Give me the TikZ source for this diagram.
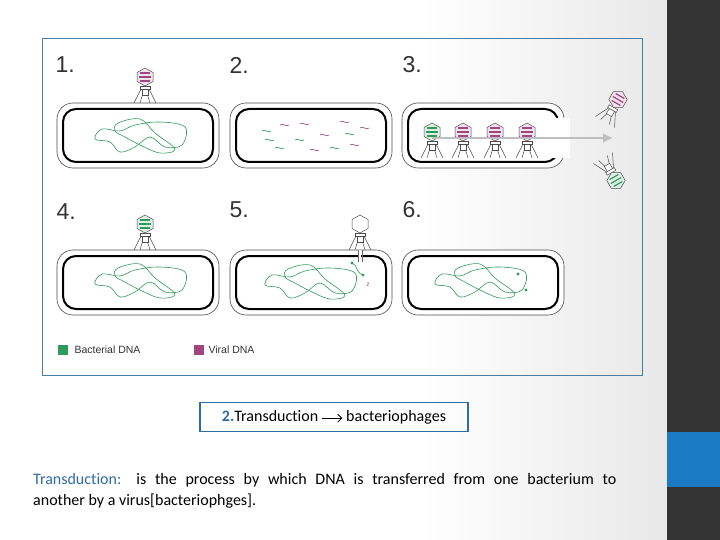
\documentclass[tikz,border=0pt]{standalone}
\usepackage{fontspec}
\usetikzlibrary{arrows.meta}
\setmainfont{Carlito}[Ligatures=NoCommon]
\newfontfamily\arial{Liberation Sans}
\begin{document}
\begin{tikzpicture}[x=1pt,y=-1pt,
  dnastyle/.style={draw=dnagreen,line width=0.6pt},
  outercell/.style={draw=black!70,line width=0.6pt,rounded corners=16pt},
  innercell/.style={draw=black,line width=2pt,rounded corners=13pt},
  steplabel/.style={font=\arial\fontsize{23}{23}\selectfont,text=black!80,anchor=west},
  legendtxt/.style={font=\arial\fontsize{10.5}{10.5}\selectfont,text=black!80,anchor=west}]
\definecolor{dnagreen}{HTML}{2E9A5C}
\definecolor{viral}{HTML}{A0457F}
\definecolor{framecol}{HTML}{4A7EAA}
\definecolor{slideblue}{HTML}{2E6CA4}
\definecolor{barblue}{HTML}{1A7BC4}
\useasboundingbox (0,0) rectangle (720,540);
\fill[white] (0,0) rectangle (720,540);
\shade[left color=white,right color=black!9] (420,0) rectangle (667,540);
\fill[black!80] (667,0) rectangle (720,540);
\fill[barblue] (667,432) rectangle (720,487);
% frame
\draw[framecol,line width=0.8pt] (42,38) rectangle (642,375);
% labels
\node[steplabel] (l1) at (52,65) {1.};
\node[steplabel] (l2) at (226,65) {2.};
\node[steplabel] (l3) at (399,65) {3.};
\node[steplabel] (l4) at (53,212) {4.};
\node[steplabel] (l5) at (226,210) {5.};
\node[steplabel] (l6) at (399,210) {6.};
% cells
\newcommand\cell[2]{%
  \draw[outercell,fill=white] (#1,#2) rectangle ++(162,65);
  \draw[innercell] (#1+6,#2+6) rectangle ++(150,53);}
\cell{57}{103}\cell{230}{103}\cell{402}{103}
\cell{57}{250}\cell{230}{250}\cell{402}{250}
% DNA loop
\newcommand\dnaloop[2]{%
  \begin{scope}[shift={(#1,#2)}]
  \draw[dnastyle] plot[smooth cycle,tension=0.6] coordinates
   {(-45,2)(-38,-8)(-20,-6)(-5,-12)(20,-15)(45,-10)(42,8)(25,10)(10,0)(-5,10)(-20,15)(-30,5)};
  \draw[dnastyle] plot[smooth cycle,tension=0.6] coordinates
   {(-22,-14)(0,-18)(15,-4)(35,12)(20,16)(0,8)(-15,0)(-25,-6)};
  \end{scope}}
\dnaloop{140}{137}\dnaloop{310}{283}\dnaloop{480}{282}\dnaloop{140}{282}
% fragments in cell 2
\foreach \x/\y/\c in {262/131/dnagreen,280/125/viral,300/124/viral,295/140/dnagreen,320/135/viral,340/122/viral,
  345/134/dnagreen,360/128/viral,330/148/dnagreen,310/150/viral,275/148/dnagreen,350/145/viral,265/140/dnagreen}
  \draw[\c,line width=0.6pt] (\x,\y) .. controls (\x+3,\y-3) and (\x+6,\y+3) .. (\x+9,\y);
% phage: x,y (leg feet), rotation, head fill, stripe colour
\newcommand\phage[5]{%
  \begin{scope}[shift={(#1,#2)},rotate=#3]
  \draw[black!70,line width=0.5pt] (-4,-14) -- (-11,0) (4,-14) -- (11,0) (-2,-10) -- (-5,0) (2,-10) -- (5,0);
  \draw[black!70,fill=white,line width=0.5pt] (-3,-14) rectangle (3,-8);
  \draw[black!70,fill=white,line width=0.5pt] (-5,-17) rectangle (5,-14);
  \draw[black!70,fill=#4,line width=0.5pt] (0,-35)--(8,-30.5)--(8,-21.5)--(0,-17)--(-8,-21.5)--(-8,-30.5)--cycle;
  \draw[#5,line width=1.2pt] (-5,-30)--(5,-30) (-6,-26)--(6,-26) (-5,-22)--(5,-22);
  \end{scope}}
\phage{145}{103}{0}{viral!15}{viral}
\foreach \x in {463,495,527} \phage{\x}{158}{0}{viral!15}{viral};
\phage{432}{158}{0}{dnagreen!15}{dnagreen}
\phage{145}{250}{0}{dnagreen!15}{dnagreen}
\phage{360}{250}{0}{white}{white}
\phage{605}{122}{-30}{viral!15}{viral}
\phage{603}{158}{-150}{dnagreen!15}{dnagreen}
% arrow in cell 3
\fill[white] (552,118) rectangle (570,158);
\draw[black!25,line width=2.5pt,-{Latex[length=10pt,width=10pt]}] (432,138) -- (613,138);
% step 5 injected DNA
\draw[white,line width=1.5pt] (360,250) -- (360,260);
\draw[black!60,line width=0.5pt] (358,250) -- (358,262) (362,250)--(362,262);
\draw[dnastyle] (352,263) .. controls (358,265) and (355,272) .. (363,275);
\fill[dnagreen] (352,263) circle (1.6) (363,275) circle (1.6);
\node[text=viral,font=\fontsize{7}{7}\selectfont] (v5) at (368,285) {\textit{z}};
\fill[dnagreen] (518,274) circle (1.6) (526,290) circle (1.6);
% legend
\fill[dnagreen] (58,345) rectangle (68,355);
\node[legendtxt] (lg1) at (71,350) {Bacterial DNA};
\fill[viral] (194,345) rectangle (204,355);
\node[legendtxt] (lg2) at (205,350) {Viral DNA};
% title box
\node[draw=slideblue,line width=1.5pt,minimum width=268pt,minimum height=29pt,font=\fontsize{16}{16}\selectfont]
  (tb) at (334,417) {\textbf{\textcolor{slideblue}{2.}}Transduction \tikz[baseline=-3pt]\draw[-{Straight Barb[length=4pt]},line width=0.8pt] (0,0)--(20,0); bacteriophages};
% paragraph
\node[anchor=base west,inner sep=0,font=\fontsize{16}{16}\selectfont] (p1) at (33,484)
  {\makebox[583pt][s]{\textcolor{slideblue}{Transduction:} is the process by which DNA is transferred from one bacterium to}};
\node[anchor=base west,inner sep=0,font=\fontsize{16}{16}\selectfont] (p2) at (33,505)
  {another by a virus[bacteriophges].};
\end{tikzpicture}
\end{document}
